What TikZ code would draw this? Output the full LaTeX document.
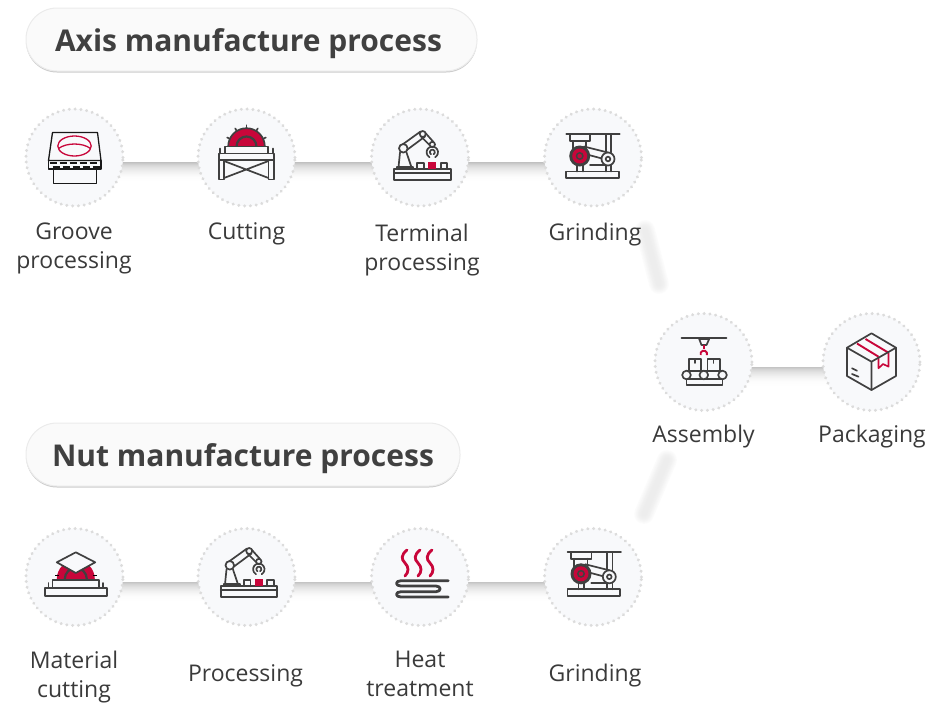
\documentclass[tikz,border=0pt]{standalone}
\usepackage{fontspec}
\setmainfont{Open Sans}
\usetikzlibrary{backgrounds,shadows}
\definecolor{ink}{HTML}{404040}
\definecolor{crim}{HTML}{C8063A}
\definecolor{disc}{HTML}{F8F9FB}
\definecolor{dotc}{HTML}{DCDCDC}
\definecolor{txt}{HTML}{3A3A3A}
\pgfdeclareverticalshading{bandfade}{100bp}{color(0bp)=(white); color(25bp)=(white); color(38bp)=(black!1); color(50bp)=(black!5); color(62bp)=(black!11); color(70bp)=(black!17); color(75bp)=(black!23); color(100bp)=(black!23)}
\tikzset{
  stepc/.style={circle,fill=disc,draw=dotc,line width=3.3pt,line cap=round,dash pattern=on 0.01pt off 5.8pt,minimum size=97pt,inner sep=0pt,outer sep=0pt},
  lab/.style={font=\fontsize{23}{29}\selectfont,text=txt,align=center,inner sep=0pt},
  pill/.style={rectangle,rounded corners=31pt,fill=white!98!black,draw=black!8,line width=1pt,minimum height=63pt,inner sep=0pt,text=ink,font=\fontsize{30}{36}\selectfont\bfseries,drop shadow={shadow xshift=0pt,shadow yshift=-1.5pt,opacity=.2,fill=black}},
  ic/.style={draw=ink,line width=1.7pt,line join=round,line cap=round},
  grooveicon/.pic={
    \begin{scope}[draw=black!90,line width=1.3pt,line join=round]
      \draw (-22,-25) -- (23,-25) -- (26.5,3) -- (-26,3) -- cycle;
      \draw (-26,3) rectangle (26.5,11.5);
      \draw[dash pattern=on 7pt off 3pt] (-25,5.5) -- (26,5.5);
      \draw[dash pattern=on 7pt off 3pt] (-22,9.5) -- (26,9.5);
      \draw (-21,11.5) rectangle (22,25.8);
      \draw[crim] (0,-11.5) ellipse[x radius=16.7pt,y radius=10pt];
      \draw[crim] (-16,-9) .. controls (-8,-15) and (8,-15) .. (16,-9);
    \end{scope}},
  cuticon/.pic={
    \fill[crim] (-18.3,-11) arc[start angle=180,end angle=0,radius=18.3pt] -- cycle;
    \draw[ic,line width=2.2pt] (-10,-11) arc[start angle=180,end angle=0,radius=10pt];
    \draw[ic] (-18.3,-11) arc[start angle=180,end angle=0,radius=18.3pt];
    \foreach \a in {25,58,90,122,155}
      \draw[ic] (0,-11) ++(-\a:18.3) -- ++(-\a:3);
    \draw[ic,fill=disc] (-21.7,-11) rectangle (21.7,-4);
    \draw[ic,fill=disc] (-27.3,-4) rectangle (27.3,2.5);
    \draw[ic] (-26.5,-9) -- (-26.5,-4) (26.5,-9) -- (26.5,-4);
    \draw[ic,fill=disc] (-27.3,2.5) rectangle (-22.5,22);
    \draw[ic,fill=disc] (22,2.5) rectangle (27.3,22);
    \draw[ic] (-22.5,3.5) -- (22,20.5) (-22.5,20.5) -- (22,3.5);
  },
  roboticon/.pic={
    \draw[ic] (-25.7,11.8) rectangle (30.7,22.5);
    \draw[ic] (-25.7,15.8) -- (30.7,15.8);
    \draw[ic] (-22.7,11.8) -- (-22.7,9.8) -- (-6.7,9.8) -- (-6.7,11.8);
    \draw[ic] (-20,-5) -- (-21.5,9.8) (-13.5,-5) -- (-8.5,9.8);
    \draw[ic] (-17.5,-13) -- (0.5,-26) (-14.5,-6.5) -- (5,-21);
    \draw[ic] (5,-25) -- (13.5,-15.5) (1,-21) -- (9.5,-12.5);
    \draw[ic,fill=disc] (-16.7,-9.2) circle[radius=4.3pt];
    \draw[ic,fill=disc] (2.7,-23.5) circle[radius=3pt];
    \draw[ic,fill=disc] (12.3,-13) circle[radius=2.7pt];
    \draw[ic] (15.15,-0.3) arc[start angle=-60,end angle=240,radius=5.7pt];
    \draw[ic] (13.6,-3.2) arc[start angle=-60,end angle=240,radius=2.5pt];
    \draw[ic] (-2.7,11.8) -- (-2.7,5.2) -- (4,5.2) -- (4,11.8);
    \fill[crim] (8.3,4.5) rectangle (16,11.8);
    \draw[ic] (20.7,11.8) -- (20.7,5.2) -- (27.3,5.2) -- (27.3,11.8);
  },
  grindicon/.pic={
    \draw[ic] (-26.7,-23.5) -- (26.7,-23.5);
    \draw[ic] (-23.3,-23) rectangle (-2.7,-16.5);
    \draw[ic] (-20,-16.5) -- (-20,-8) (-6.7,-16.5) -- (-6.7,-8);
    \draw[ic] (12.7,-23) -- (12.7,-5) (18.3,-23) -- (18.3,-5);
    \draw[ic] (-9,-11) -- (15,-5) (-6,-3) -- (9,1);
    \draw[ic] (-3,7.5) -- (12.7,7.5);
    \draw[ic] (-15.7,7.5) -- (-15.7,14) (-10,7.5) -- (-10,14);
    \draw[ic] (12.7,7.5) -- (12.7,14) (18.3,7.5) -- (18.3,14);
    \fill[ink] (-13.3,-1.5) circle[radius=10.5pt];
    \fill[crim] (-13.3,-1.5) circle[radius=7.5pt];
    \draw[ink,line width=1.5pt] (-13.3,-1.5) circle[radius=3.2pt];
    \draw[ic,fill=disc] (15,1.5) circle[radius=6.5pt];
    \draw[ic] (15,1.5) circle[radius=2.3pt];
    \draw[ic] (-26.7,14) rectangle (26,20.8);
  },
  assemblyicon/.pic={
    \draw[ic] (-22,-23.7) -- (23,-23.7);
    \draw[ic,fill=disc] (-4.3,-23) -- (5.7,-23) -- (3,-17) -- (-2,-17) -- cycle;
    \draw[crim,line width=1.5pt] (0.3,-17) -- (0.3,-12.7);
    \draw[crim,line width=1.9pt] (-2.8,-7) arc[start angle=200,end angle=-20,radius=3.3pt];
    \draw[ic] (-14.3,8.7) -- (-14.3,-2.7) -- (-2.3,-2.7) -- (-2.3,8.7);
    \draw[ic] (4,8.7) -- (4,-2.7) -- (16.3,-2.7) -- (16.3,8.7);
    \draw[ic] (-8.5,-2.7) -- (-8.5,1) (10,-2.7) -- (10,1);
    \draw[ic] (-17,8.7) -- (19,8.7) (-17,17.3) -- (19,17.3);
    \draw[ic,fill=disc] (-17,13) circle[radius=4.3pt];
    \draw[ic,fill=disc] (0.3,13) circle[radius=4.3pt];
    \draw[ic,fill=disc] (19,13) circle[radius=4.3pt];
    \draw[ic] (-17,17.3) -- (-17,23) -- (19,23) -- (19,17.3);
  },
  packicon/.pic={
    \draw[crim,line width=1.9pt] (-14.5,-18.5) -- (7,-5.3) (-6,-23) -- (17,-9.3);
    \draw[crim,line width=1.6pt,line join=round] (7,-5.3) -- (7,6.3) -- (11.5,2) -- (17,4.7) -- (17,-9.3);
    \draw[ic] (0,-28.7) -- (24.5,-14.3) -- (24.5,14) -- (0,28) -- (-24.5,14) -- (-24.5,-14.3) -- cycle;
    \draw[ic] (-24.5,-14.3) -- (0,-0.3) -- (24.5,-14.3) (0,-0.3) -- (0,28);
    \draw[ic] (-19.5,6.3) -- (-14.5,8.7) (-19.5,12) -- (-13,14.7);
  },
  sheeticon/.pic={
    \fill[crim] (-17.7,2) arc[start angle=180,end angle=0,radius=19pt] -- cycle;
    \draw[ink,line width=2.2pt] (-9.7,2) arc[start angle=180,end angle=0,radius=11pt];
    \draw[ic,fill=disc] (-22,2.7) rectangle (24.7,11);
    \draw[ic,fill=disc] (-29.3,11) rectangle (32.3,19.3);
    \draw[ic] (-26,6) -- (-26,11) (28.5,6) -- (28.5,11);
    \draw[black,line width=1.3pt] (-19.5,-1.3) -- (-16,-1.3) (18.3,-1.3) -- (22.3,-1.3);
    \draw[ic,fill=disc] (1.3,-24.7) -- (20.7,-14.7) -- (1.3,-4) -- (-17.7,-14.7) -- cycle;
  },
  heaticon/.pic={
    \foreach \x in {-15,-2,10} {
      \draw[crim,line width=2.8pt,line cap=round] (\x+2,-27) .. controls (\x-4,-22) and (\x-4,-18) .. (\x,-14) .. controls (\x+4,-10) and (\x+4,-5) .. (\x,-1);
    }
    \draw[ink,line width=2.8pt,line cap=round,line join=round]
      (28.3,3.7) -- (-19,3.7) .. controls (-25,3.7) and (-25,9) .. (-19,9) -- (16,9)
      .. controls (21.5,9) and (21.5,14.7) .. (16,14.7) -- (-19,14.7)
      .. controls (-25,14.7) and (-25,20) .. (-19,20) -- (28.3,20);
  }
}
\newcommand{\hbandc}[2]{%
  \shade[shading=bandfade]
    ([yshift=-5pt]#1.center) rectangle ([yshift=-24pt]#2.center);}
\newcommand{\softband}[2]{%
  \foreach \w/\k/\o in {20/1/0,18/2/-0.3,16/3/-0.6,14/4/-1,12/5/-1.5,10/6/-2,7/6.5/-3,4/7/-4}{
    \draw[line cap=round,line width=\w pt,draw=black!\k,xshift=\o pt] (#1) -- (#2);
  }}
\begin{document}
\begin{tikzpicture}[x=1pt,y=-1pt]
\useasboundingbox (0,0) rectangle (951,702);
\node[pill,minimum width=451pt] (axis) at (251.5,39.5) {\hspace*{-6pt}\raisebox{-11.5pt}[0pt][0pt]{Axis manufacture process}};
\node[pill,minimum width=434pt] (nut) at (243,454.5) {\raisebox{-11.5pt}[0pt][0pt]{Nut manufacture process}};

\node[stepc] (a1) at (74.5,157.5) {};
\node[stepc] (a2) at (246.5,157.5) {};
\node[stepc] (a3) at (420,157.5) {};
\node[stepc] (a4) at (593,157.5) {};
\node[stepc] (asm) at (703.5,362) {};
\node[stepc] (pack) at (871.5,362) {};
\node[stepc] (n1) at (74.5,577) {};
\node[stepc] (n2) at (246.5,577) {};
\node[stepc] (n3) at (420,577) {};
\node[stepc] (n4) at (593,577) {};

\coordinate (d1s) at (645,230);
\coordinate (d1e) at (659,284);
\coordinate (d2s) at (667,460);
\coordinate (d2e) at (644,514);

\begin{scope}[on background layer]
  \hbandc{a1}{a2} \hbandc{a2}{a3} \hbandc{a3}{a4}
  \hbandc{asm}{pack}
  \hbandc{n1}{n2} \hbandc{n2}{n3} \hbandc{n3}{n4}
  \softband{d1s}{d1e}
  \softband{d2s}{d2e}
\end{scope}

\pic at (a1) {grooveicon};
\pic at (a2) {cuticon};
\pic at (a3) {roboticon};
\pic at (a4) {grindicon};
\pic at (asm) {assemblyicon};
\pic at (pack) {packicon};
\pic at (n1) {sheeticon};
\pic at ([yshift=2.5pt]n2) {roboticon};
\pic at (n3) {heaticon};
\pic at ([xshift=1.3pt,yshift=1.7pt]n4) {grindicon};

\node[lab] (l1) at (74,248.5) {Groove\\processing};
\node[lab] (l2) at (246.5,234) {Cutting};
\node[lab] (l3) at (422,250.5) {Terminal\\processing};
\node[lab] (l4) at (595,235) {Grinding};
\node[lab] (l5) at (703.5,437) {Assembly};
\node[lab] (l6) at (872,437) {Packaging};
\node[lab] (l7) at (74,677.5) {Material\\cutting};
\node[lab] (l8) at (245.5,676) {Processing};
\node[lab] (l9) at (420,673.5) {Heat\\treatment};
\node[lab] (l10) at (595,676) {Grinding};
\end{tikzpicture}
\end{document}
